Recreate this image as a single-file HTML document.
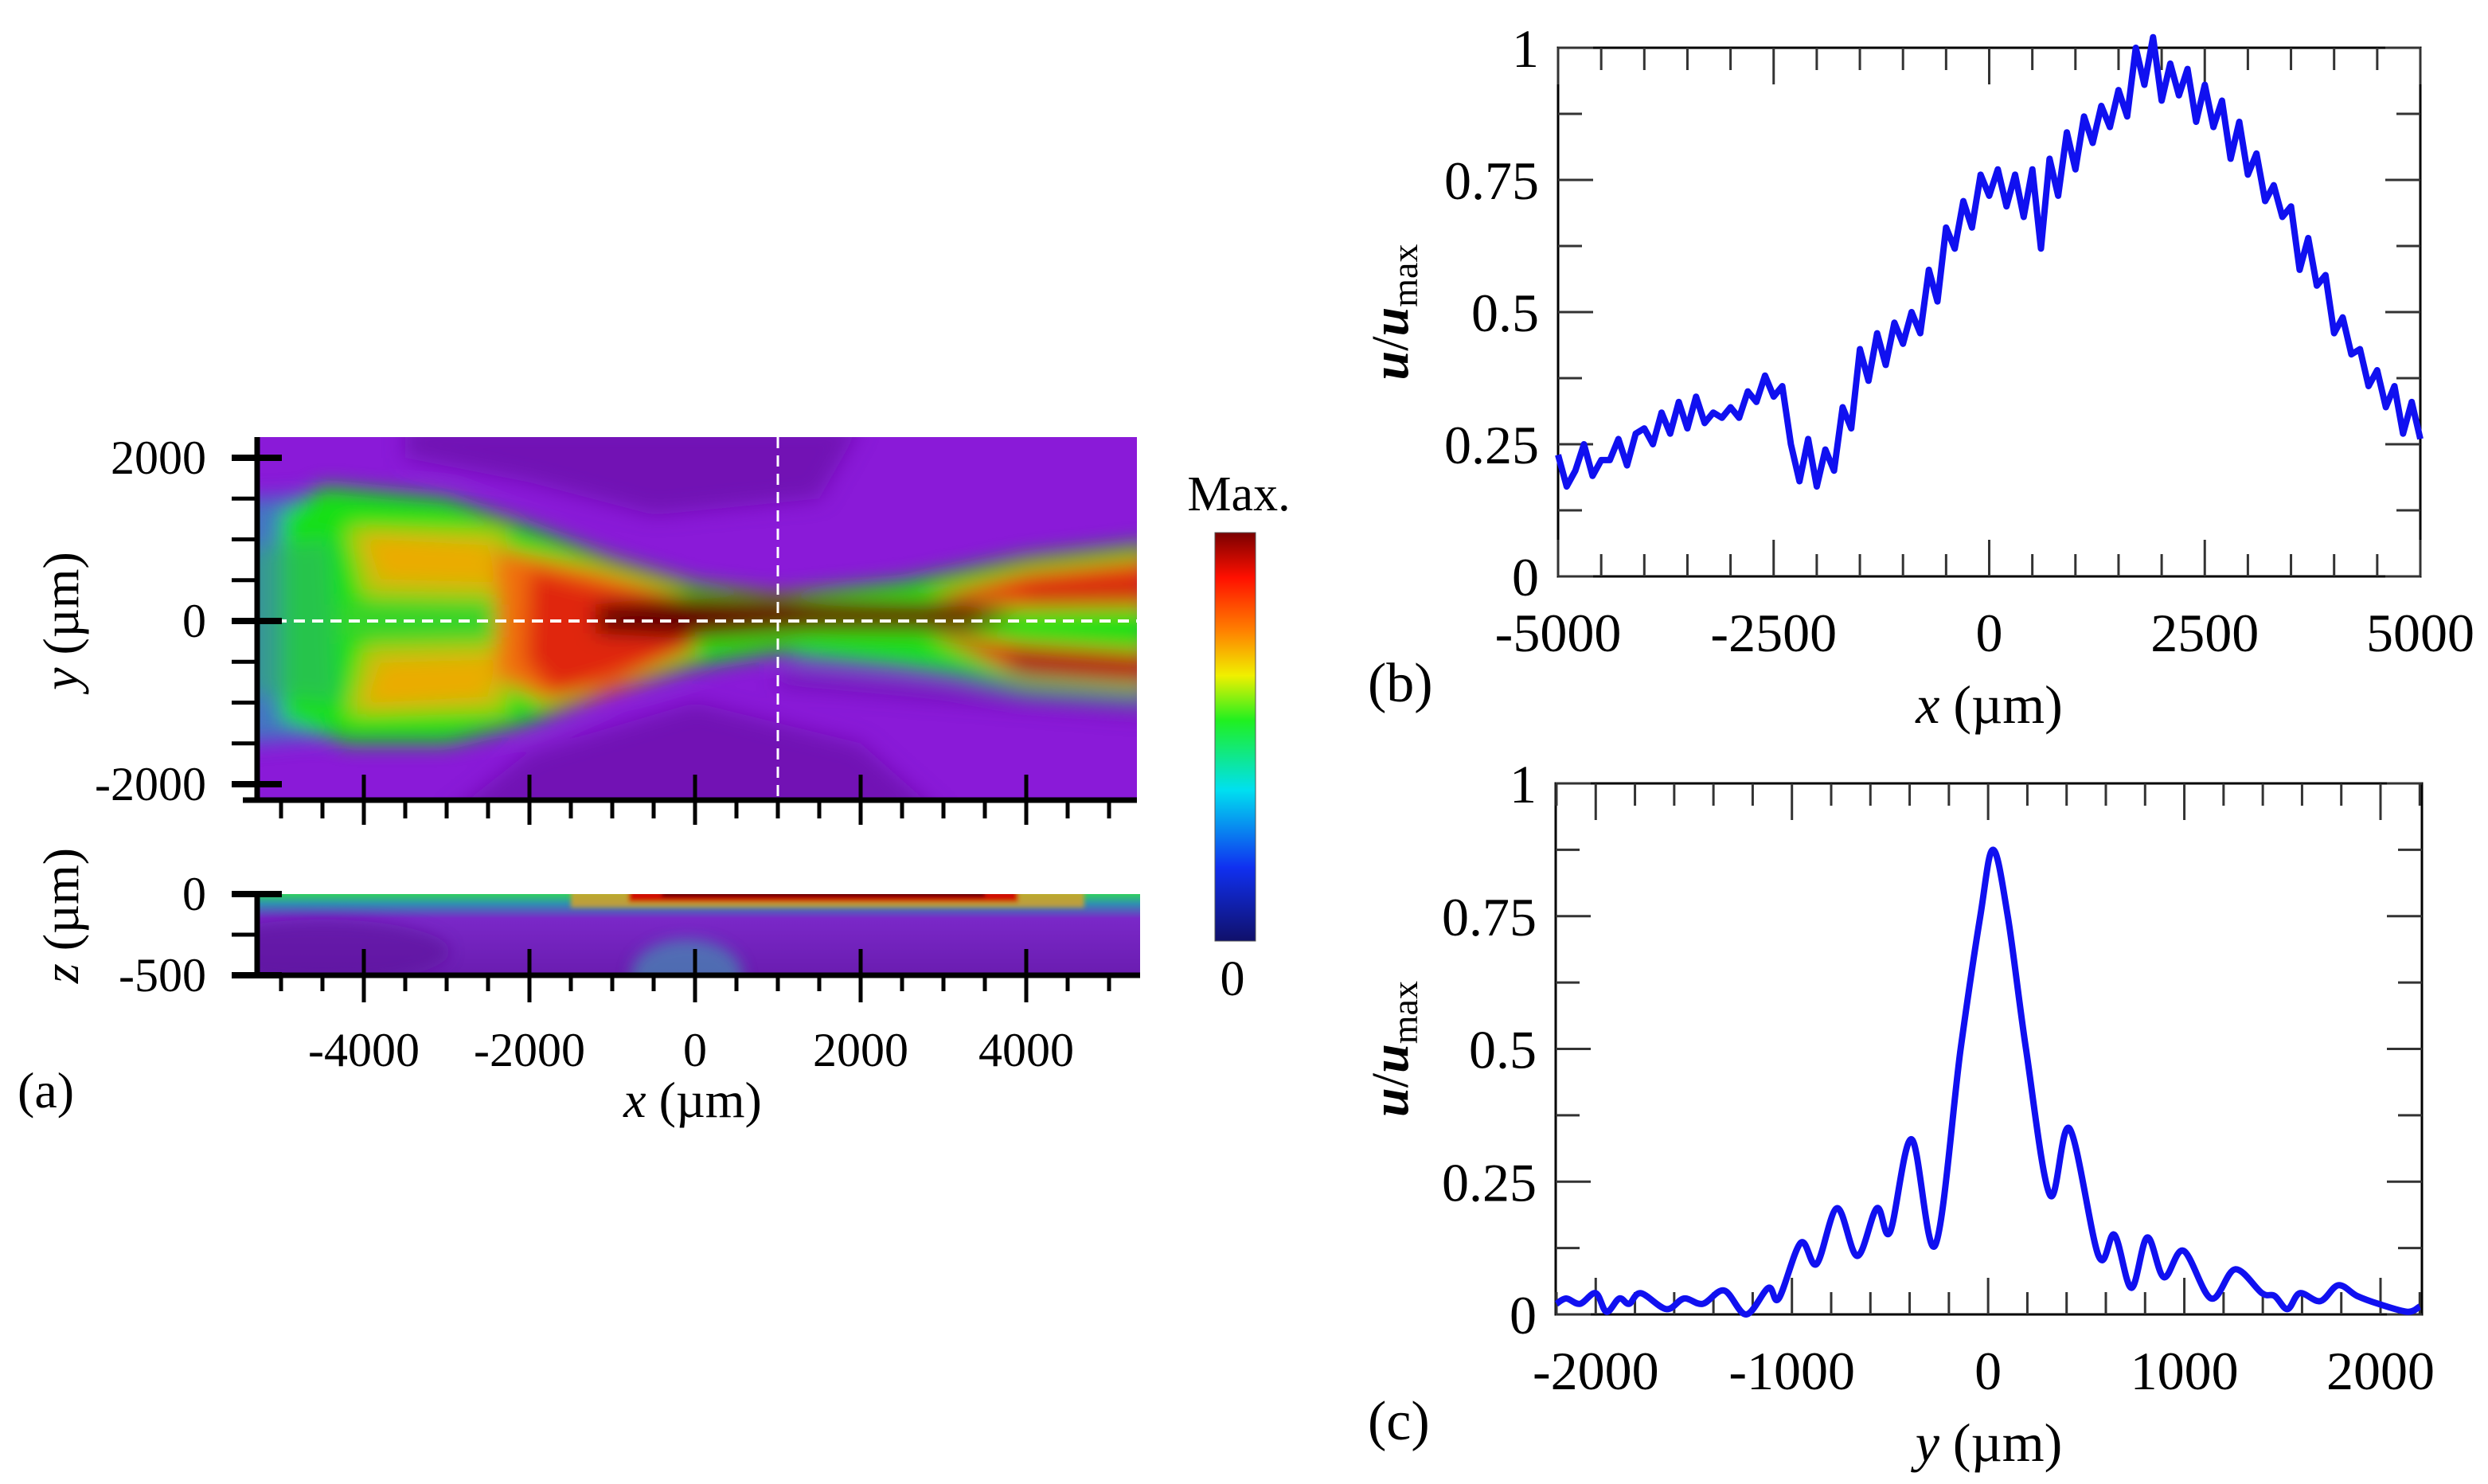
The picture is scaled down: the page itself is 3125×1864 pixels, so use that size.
<!DOCTYPE html>
<html><head><meta charset="utf-8"><style>
html,body{margin:0;padding:0;background:#fff;}
svg{display:block;}
text{font-family:"Liberation Serif",serif;fill:#000;}
</style></head><body>
<svg id="fig" width="3125" height="1864" viewBox="0 0 3125 1864" xmlns="http://www.w3.org/2000/svg">
<defs>
<filter id="blur" filterUnits="userSpaceOnUse" x="0" y="400" width="1700" height="800"><feGaussianBlur stdDeviation="13"/></filter>
<filter id="blur2" filterUnits="userSpaceOnUse" x="0" y="1000" width="1700" height="400"><feGaussianBlur stdDeviation="9"/></filter>
<filter id="blur3" filterUnits="userSpaceOnUse" x="0" y="1000" width="1700" height="400"><feGaussianBlur stdDeviation="3"/></filter>
<clipPath id="clipA"><rect x="323" y="549" width="1105" height="456"/></clipPath>
<clipPath id="clipZ"><rect x="323" y="1123" width="1109" height="102"/></clipPath>
<linearGradient id="cbar" x1="0" y1="0" x2="0" y2="1">
<stop offset="0" stop-color="#7a0000"/><stop offset="0.11" stop-color="#ff1000"/>
<stop offset="0.24" stop-color="#ff8000"/><stop offset="0.35" stop-color="#f0f000"/>
<stop offset="0.46" stop-color="#20f020"/><stop offset="0.63" stop-color="#00e0f0"/>
<stop offset="0.82" stop-color="#1030f0"/><stop offset="1" stop-color="#10106a"/>
</linearGradient>
<linearGradient id="zgrad" x1="0" y1="0" x2="0" y2="1">
<stop offset="0" stop-color="#30d060"/><stop offset="0.12" stop-color="#3090b0"/>
<stop offset="0.3" stop-color="#7a28c8"/><stop offset="1" stop-color="#6a1cb0"/>
</linearGradient>
</defs>
<g id="panelA"></g>
<g id="panelB"></g>
<g id="panelC"></g>
</svg>
<script>
// ---- Panel (b) data ----
const bX = [-5000,-4900,-4800,-4700,-4600,-4500,-4400,-4300,-4200,-4100,-4000,-3900,-3800,-3700,-3600,-3500,-3400,-3300,-3200,-3100,-3000,-2900,-2800,-2700,-2600,-2500,-2400,-2300,-2200,-2100,-2000,-1900,-1800,-1700,-1600,-1500,-1400,-1300,-1200,-1100,-1000,-900,-800,-700,-600,-500,-400,-300,-200,-100,0,100,200,300,400,500,600,700,800,900,1000,1100,1200,1300,1400,1500,1600,1700,1800,1900,2000,2100,2200,2300,2400,2500,2600,2700,2800,2900,3000,3100,3200,3300,3400,3500,3600,3700,3800,3900,4000,4100,4200,4300,4400,4500,4600,4700,4800,4900,5000];
const bVal = [0.23,0.17,0.20,0.25,0.19,0.22,0.22,0.26,0.21,0.27,0.28,0.25,0.31,0.27,0.33,0.28,0.34,0.29,0.31,0.30,0.32,0.30,0.35,0.33,0.38,0.34,0.36,0.25,0.18,0.26,0.17,0.24,0.20,0.32,0.28,0.43,0.37,0.46,0.40,0.48,0.44,0.50,0.46,0.58,0.52,0.66,0.62,0.71,0.66,0.76,0.72,0.77,0.70,0.76,0.68,0.77,0.62,0.79,0.72,0.84,0.77,0.87,0.82,0.89,0.85,0.92,0.87,1.00,0.93,1.02,0.90,0.97,0.91,0.96,0.86,0.93,0.85,0.90,0.79,0.86,0.76,0.80,0.71,0.74,0.68,0.70,0.58,0.64,0.55,0.57,0.46,0.49,0.42,0.43,0.36,0.39,0.32,0.36,0.27,0.33,0.26];
const bXTicks = [-5000,-2500,0,2500,5000];
const bYTicks = [0,0.25,0.5,0.75,1];
const bYTickLabels = ["0","0.25","0.5","0.75","1"];
// ---- Panel (c) data ----
const cY = [-2200,-2150,-2080,-2000,-1945,-1880,-1830,-1770,-1640,-1550,-1455,-1345,-1233,-1120,-1067,-955,-874,-770,-667,-567,-500,-390,-270,-140,-40,25,100,193,315,415,563,644,730,811,896,996,1137,1259,1396,1460,1526,1589,1693,1785,1880,1989,2137,2200];
const cVal = [0.02,0.03,0.02,0.04,0.005,0.03,0.02,0.04,0.01,0.03,0.02,0.045,0.0,0.05,0.03,0.135,0.095,0.20,0.11,0.20,0.155,0.33,0.13,0.50,0.75,0.875,0.75,0.50,0.225,0.35,0.11,0.15,0.05,0.145,0.07,0.12,0.03,0.085,0.04,0.035,0.01,0.04,0.025,0.055,0.035,0.02,0.005,0.015];
const cXTicks = [-2000,-1000,0,1000,2000];
const cYTicks = [0,0.25,0.5,0.75,1];
const cYTickLabels = ["0","0.25","0.5","0.75","1"];
// ---- Panel (a) axis ticks ----
const aXTicks = [-4000,-2000,0,2000,4000];
const aYTicks = [2000,0,-2000];
const aZTicks = [0,-500];

const NS="http://www.w3.org/2000/svg";
function mk(parent,tag,attrs,txt){const e=document.createElementNS(NS,tag);for(const k in attrs)e.setAttribute(k,attrs[k]);if(txt!==undefined)e.textContent=txt;parent.appendChild(e);return e;}

// ================= PANEL A =================
const A=document.getElementById('panelA');
const ax=x=>873+x*0.104, ay=y=>780-y*0.1025, az=z=>1123-z*0.204;
function poly(g,pts,fill,op,name){const d=pts.map(p=>ax(p[0])+','+ay(p[1])).join(' ');const e=mk(g,'polygon',{points:d,fill:fill,opacity:op||1});

return e;}
const hm=mk(A,'g',{'clip-path':'url(#clipA)'});


mk(hm,'rect',{x:323,y:549,width:1105,height:456,fill:'#8a1ad8'});
const hb=mk(hm,'g',{filter:'url(#blur)'});
poly(hb,[[-3500,2400],[2000,2400],[1500,1500],[-500,1300],[-2000,1700],[-3500,2000]],'#6a10a8',0.75,'dark-band-top');
poly(hb,[[-3000,-2400],[3000,-2400],[2000,-1500],[0,-1000],[-2000,-1600]],'#6a10a8',0.75,'dark-band-bottom');
poly(hb,[[-5500,1500],[-4300,1550],[-4100,-1400],[-5500,-1500]],'#3a80c0',0.9,'teal-left');
poly(hb,[[-5000,1300],[-4500,1650],[-3000,1500],[-2000,1150],[-1000,750],[0,450],[1000,320],[2500,480],[4000,780],[5500,950],[5500,-950],[4000,-850],[2500,-550],[1000,-380],[0,-550],[-1000,-850],[-2000,-1250],[-3000,-1500],[-4200,-1500],[-5000,-1200]],'#18e018',1,'green-envelope');
poly(hb,[[-5400,900],[-4400,1000],[-4300,-1000],[-5400,-900]],'#30b070',0.6,'teal-green-left');
poly(hb,[[-4200,1150],[-2300,1100],[-2200,250],[-4000,300]],'#d0c010',0.9,'yellow-lobe-upper');
poly(hb,[[-4000,1050],[-2500,950],[-2400,450],[-3800,500]],'#f0a800',0.9,'orange-lobe-upper');
poly(hb,[[-4200,-1150],[-2300,-1100],[-2200,-250],[-4000,-300]],'#d0c010',0.9,'yellow-lobe-lower');
poly(hb,[[-4000,-1050],[-2500,-950],[-2400,-450],[-3800,-500]],'#f0a800',0.9,'orange-lobe-lower');
poly(hb,[[-4300,200],[-2300,200],[-2300,-200],[-4300,-200]],'#40d030',0.8,'green-center-left');
poly(hb,[[-2400,900],[-1200,650],[0,300],[0,-350],[-1000,-850],[-1800,-1000],[-2400,-700]],'#f07010',1,'orange-fan');
poly(hb,[[-2000,650],[-1000,400],[0,250],[0,-300],[-1000,-700],[-1700,-900],[-2050,-500]],'#e02808',1,'red-fan');
poly(hb,[[-1200,200],[0,330],[1500,260],[3300,220],[3900,60],[3300,-120],[1500,-120],[0,-220],[-1200,-150]],'#650000',1,'dark-red-core');
poly(hb,[[2800,300],[4000,620],[5500,780],[5500,170],[4000,150]],'#e83a10',1,'red-lobe-upper-right');
poly(hb,[[2800,-150],[4000,-280],[5500,-380],[5500,-780],[4000,-720]],'#e02a08',1,'red-lobe-lower-right');
poly(hb,[[3800,-380],[5500,-500],[5500,-680],[3800,-580]],'#8a0010',0.8,'dark-streak-right');
poly(hb,[[4000,380],[5500,480],[5500,300],[4000,250]],'#b01008',0.6,'dark-streak-upper-right');
poly(hb,[[1000,-650],[5500,-1000],[5500,-1150],[1000,-780]],'#5a0c98',0.7,'dark-purple-streak');
poly(hb,[[1200,-400],[5500,-800],[5500,-900],[1200,-500]],'#40a8a0',0.6,'teal-streak');
// dashed guides
let dl=mk(A,'line',{x1:323,y1:ay(0),x2:1428,y2:ay(0),stroke:'#fff','stroke-width':4,'stroke-dasharray':'14 9'});


dl=mk(A,'line',{x1:ax(1000),y1:549,x2:ax(1000),y2:1005,stroke:'#fff','stroke-width':3,'stroke-dasharray':'14 9'});


// z panel
const zm=mk(A,'g',{'clip-path':'url(#clipZ)'});


mk(zm,'rect',{x:323,y:1123,width:1109,height:102,fill:'url(#zgrad)'});
const zb=mk(zm,'g',{filter:'url(#blur2)'});
mk(zb,'ellipse',{cx:ax(-4500),cy:1195,rx:160,ry:40,fill:'#5a189a',opacity:0.6});
mk(zb,'ellipse',{cx:ax(-100),cy:1225,rx:70,ry:45,fill:'#3aa0b0',opacity:0.6});
const zb2=mk(zm,'g',{filter:'url(#blur3)'});
mk(zb2,'rect',{x:ax(-1500),y:1118,width:ax(4700)-ax(-1500),height:22,fill:'#e0a020',opacity:0.8});
mk(zb2,'rect',{x:ax(-800),y:1118,width:ax(3900)-ax(-800),height:15,fill:'#d01000'});
mk(zb2,'rect',{x:ax(-400),y:1118,width:ax(3500)-ax(-400),height:9,fill:'#600000'});
// colorbar
let cb=mk(A,'rect',{x:1526,y:669,width:51,height:513,fill:'url(#cbar)',stroke:'#555','stroke-width':1});


let t=mk(A,'text',{x:1556,y:641,'font-size':62,'text-anchor':'middle'},'Max.');


t=mk(A,'text',{x:1548,y:1250,'font-size':62,'text-anchor':'middle'},'0');


// axes
const axg=mk(A,'g',{stroke:'#000','stroke-width':7,fill:'none'});


mk(axg,'line',{x1:323,y1:549,x2:323,y2:1008});
mk(axg,'line',{x1:305,y1:1005,x2:1428,y2:1005});
mk(axg,'line',{x1:323,y1:1123,x2:323,y2:1228});
mk(axg,'line',{x1:305,y1:1225,x2:1432,y2:1225});
for(let y=-2000;y<=2000;y+=500){const major=aYTicks.includes(y);mk(axg,'line',{x1:291,y1:ay(y),x2:major?354:323,y2:ay(y),'stroke-width':major?8:5});}
for(let x=-5000;x<=5000;x+=500){const major=aXTicks.includes(x);
mk(axg,'line',{x1:ax(x),y1:major?973:1005,x2:ax(x),y2:major?1036:1028,'stroke-width':5});
mk(axg,'line',{x1:ax(x),y1:major?1192:1225,x2:ax(x),y2:major?1259:1245,'stroke-width':5});}
mk(axg,'line',{x1:291,y1:1123,x2:354,y2:1123,'stroke-width':8});
mk(axg,'line',{x1:291,y1:1174,x2:323,y2:1174,'stroke-width':5});
mk(axg,'line',{x1:291,y1:1225,x2:354,y2:1225,'stroke-width':8});
aYTicks.forEach(v=>{const e=mk(A,'text',{x:259,y:ay(v)+20,'font-size':60,'text-anchor':'end'},String(v));

});
aZTicks.forEach(v=>{const e=mk(A,'text',{x:259,y:az(v)+20,'font-size':60,'text-anchor':'end'},String(v));

});
aXTicks.forEach(v=>{const e=mk(A,'text',{x:ax(v),y:1339,'font-size':60,'text-anchor':'middle'},String(v));

});
t=mk(A,'text',{x:870,y:1403,'font-size':64,'text-anchor':'middle'});


t.innerHTML='<tspan font-style="italic">x</tspan> (µm)';
t=mk(A,'text',{x:22,y:1391,'font-size':64},'(a)');


t=mk(A,'text',{transform:'translate(98,780) rotate(-90)','font-size':64,'text-anchor':'middle'});


t.innerHTML='<tspan font-style="italic">y</tspan> (µm)';
t=mk(A,'text',{transform:'translate(98,1150) rotate(-90)','font-size':64,'text-anchor':'middle'});


t.innerHTML='<tspan font-style="italic">z</tspan> (µm)';

// ================= LINE PANELS =================
function linePanel(G,box,xmin,xmax,xs,vals,xTicks,yTicks,yLabels,minorStep,xTitleVar,panelLabel,smooth){
 const sx=x=>box.l+(x-xmin)/(xmax-xmin)*(box.r-box.l);
 const sy=v=>box.b-v*(box.b-box.t);
 const frame=mk(G,'rect',{x:box.l,y:box.t,width:box.r-box.l,height:box.b-box.t,fill:'none',stroke:'#000','stroke-width':3});
 
 
 const tg=mk(G,'g',{stroke:'#333','stroke-width':3});
 
 
 const start=Math.ceil(xmin/minorStep)*minorStep;
 for(let x=start;x<=xmax;x+=minorStep){const major=xTicks.includes(x);const L=major?46:28;
  mk(tg,'line',{x1:sx(x),y1:box.b,x2:sx(x),y2:box.b-L});mk(tg,'line',{x1:sx(x),y1:box.t,x2:sx(x),y2:box.t+L});}
 for(let v=0;v<=1.0001;v+=0.125){const major=Math.abs(v*4-Math.round(v*4))<1e-6;const L=major?44:30;
  mk(tg,'line',{x1:box.l,y1:sy(v),x2:box.l+L,y2:sy(v)});mk(tg,'line',{x1:box.r,y1:sy(v),x2:box.r-L,y2:sy(v)});}
 let d='';
 const P=xs.map((x,i)=>[sx(x),sy(vals[i])]);
 if(!smooth){d=P.map((p,i)=>(i?'L':'M')+p[0].toFixed(1)+','+p[1].toFixed(1)).join('');}
 else{d='M'+P[0][0]+','+P[0][1];for(let i=0;i<P.length-1;i++){const p0=P[Math.max(0,i-1)],p1=P[i],p2=P[i+1],p3=P[Math.min(P.length-1,i+2)];
  const c1=[p1[0]+(p2[0]-p0[0])/6,p1[1]+(p2[1]-p0[1])/6],c2=[p2[0]-(p3[0]-p1[0])/6,p2[1]-(p3[1]-p1[1])/6];
  d+=`C${c1[0].toFixed(1)},${c1[1].toFixed(1)} ${c2[0].toFixed(1)},${c2[1].toFixed(1)} ${p2[0].toFixed(1)},${p2[1].toFixed(1)}`;}}
 const ln=mk(G,'path',{d:d,fill:'none',stroke:'#1010f0','stroke-width':8,'stroke-linejoin':'round'});
 
 
 yTicks.forEach((v,i)=>{const e=mk(G,'text',{x:box.l-24,y:sy(v)+24,'font-size':68,'text-anchor':'end'},yLabels[i]);
 
 });
 xTicks.forEach(v=>{const e=mk(G,'text',{x:sx(v),y:box.b+94,'font-size':68,'text-anchor':'middle'},String(v));
 
 });
 let e=mk(G,'text',{x:(box.l+box.r)/2,y:box.b+184,'font-size':68,'text-anchor':'middle'});
 
 
 e.innerHTML=`<tspan font-style="italic">${xTitleVar}</tspan> (µm)`;
 e=mk(G,'text',{x:1718,y:box.b+157,'font-size':70},panelLabel);
 
 
 e=mk(G,'text',{transform:`translate(1768,${(box.t+box.b)/2}) rotate(-90)`,'font-size':66,'text-anchor':'middle'});
 
 
 e.innerHTML='<tspan font-style="italic" font-weight="bold">u</tspan>/<tspan font-style="italic" font-weight="bold">u</tspan><tspan font-size="46" dy="12">max</tspan>';
}
linePanel(document.getElementById('panelB'),{l:1957,r:3040,t:60,b:724},-5000,5000,bX,bVal,bXTicks,bYTicks,bYTickLabels,500,'x','(b)',false);
linePanel(document.getElementById('panelC'),{l:1954,r:3042,t:984,b:1651},-2204,2211,cY,cVal,cXTicks,cYTicks,cYTickLabels,200,'y','(c)',true);
</script>
</body></html>
